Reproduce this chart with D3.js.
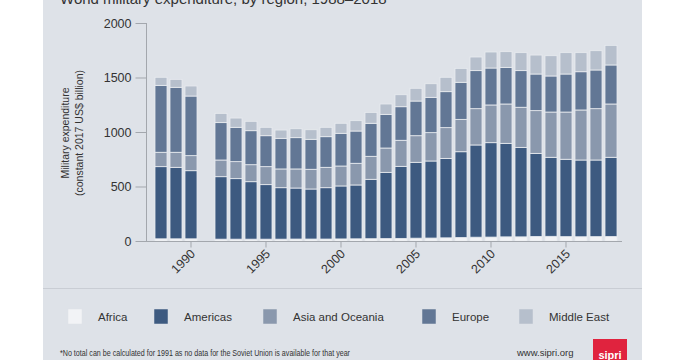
<!DOCTYPE html>
<html><head><meta charset="utf-8">
<script src="https://cdn.jsdelivr.net/npm/d3@7"></script>
<style>
html,body{margin:0;padding:0;background:#fff;}
svg{display:block;font-family:"Liberation Sans",Arial,sans-serif;}
</style></head>
<body>
<svg id="chart" width="685" height="360"></svg>
<script>
const years = d3.range(1988, 2019);
const regions = ["Africa", "Americas", "Asia and Oceania", "Europe", "Middle East"];
const africa   = [20,20,20,null,17,17,17,17,17,18,18,18,19,20,21,22,24,26,27,29,32,35,36,38,38,42,43,40,39,40,41];
const americas = [662,656,625,null,573,555,527,500,472,468,459,471,486,494,545,608,661,696,707,729,787,846,866,858,821,762,725,710,704,703,727];
const asia     = [132,138,138,null,153,156,156,165,172,175,181,187,183,199,211,223,239,244,260,282,297,333,346,361,368,392,415,433,459,471,489];
const europe   = [614,596,547,null,343,315,312,284,281,287,275,281,300,296,303,309,308,318,324,330,340,349,339,336,336,336,331,349,351,355,358];
const middleEast = [74,73,92,null,85,85,86,77,76,82,88,86,92,95,100,95,110,117,125,132,128,125,147,144,165,174,186,196,175,177,180];
const yTicks = [0, 500, 1000, 1500, 2000];
const xTicks = [1990, 1995, 2000, 2005, 2010, 2015];
const colors = ["#f2f3f6", "#3d5a80", "#8a98ad", "#627795", "#b6bfcc"];

const series = [africa, americas, asia, europe, middleEast];
const rows = years.map((yr, i) => {
  const r = {year: yr};
  regions.forEach((k, j) => r[k] = series[j][i] == null ? 0 : series[j][i]);
  r.missing = africa[i] == null;
  return r;
});

const svg = d3.select("#chart");

// panel
svg.append("rect").attr("x", 43).attr("y", -10).attr("width", 599).attr("height", 380).attr("fill", "#dee2e8");
svg.append("line").attr("x1", 43).attr("x2", 642).attr("y1", 288.5).attr("y2", 288.5).attr("stroke", "#c9cdd4").attr("stroke-width", 1.2);

// title (cut off at the top edge, as in the source image)
svg.append("text").attr("x", 60).attr("y", 4).attr("font-size", 15).attr("fill", "#333")
  .text("World military expenditure, by region, 1988–2018");

const x = d3.scaleBand().domain(years).range([153.5, 618.5]).paddingInner(0.2).paddingOuter(0.1);
const y = d3.scaleLinear().domain([0, 2000]).range([241, 23]);

const stack = d3.stack().keys(regions);
const stacked = stack(rows.filter(r => !r.missing));

svg.append("g").selectAll("g").data(stacked).join("g")
  .attr("fill", (d, i) => colors[i])
  .selectAll("rect").data(d => d).join("rect")
  .attr("x", d => x(d.data.year))
  .attr("width", x.bandwidth())
  .attr("y", d => y(d[1]))
  .attr("height", d => y(d[0]) - y(d[1]))
  .attr("stroke", "#e9ecf0").attr("stroke-width", 0.8);

// axes
const axisColor = "#a3a7ad";
svg.append("line").attr("x1", 146.5).attr("x2", 146.5).attr("y1", 23).attr("y2", 241).attr("stroke", axisColor);
svg.append("line").attr("x1", 146).attr("x2", 622).attr("y1", 241.5).attr("y2", 241.5).attr("stroke", axisColor);

const yAxis = svg.append("g").attr("transform", "translate(146.5,0)")
  .call(d3.axisLeft(y).tickValues(yTicks).tickSize(11).tickPadding(4).tickFormat(d3.format("d")));
yAxis.select(".domain").remove();
yAxis.selectAll("line").attr("stroke", axisColor);
yAxis.selectAll("text").attr("font-size", 12.5).attr("fill", "#333").attr("font-family", "Liberation Sans, Arial, sans-serif");

const xAxis = svg.append("g").attr("transform", "translate(0,241.5)")
  .call(d3.axisBottom(x).tickValues(xTicks).tickSize(6).tickFormat(d3.format("d")));
xAxis.select(".domain").remove();
xAxis.selectAll("line").attr("stroke", axisColor);
xAxis.selectAll("text").attr("font-size", 12.5).attr("fill", "#333")
  .attr("font-family", "Liberation Sans, Arial, sans-serif")
  .attr("text-anchor", "end").attr("dy", null).attr("y", 0)
  .attr("transform", "translate(5,13) rotate(-45)");

// y title
const yt = svg.append("text").attr("transform", "translate(69,133) rotate(-90)")
  .attr("text-anchor", "middle").attr("font-size", 10.5).attr("fill", "#333");
yt.append("tspan").attr("x", 0).attr("dy", 0).text("Military expenditure");
yt.append("tspan").attr("x", 0).attr("dy", 13.5).text("(constant 2017 US$ billion)");

// legend
const legX = [68, 154, 263, 422, 519];
const lg = svg.append("g").selectAll("g").data(regions).join("g")
  .attr("transform", (d, i) => `translate(${legX[i]},309)`);
lg.append("rect").attr("width", 14).attr("height", 15).attr("fill", (d, i) => colors[i])
  .attr("stroke", "#dde1e6").attr("stroke-width", 0.5);
lg.append("text").attr("x", 30).attr("y", 11.5).attr("font-size", 11.5).attr("fill", "#333").text(d => d);

// footnote
svg.append("text").attr("x", 60).attr("y", 356).attr("font-size", 9.5).attr("fill", "#333")
  .attr("textLength", 290).attr("lengthAdjust", "spacingAndGlyphs")
  .text("*No total can be calculated for 1991 as no data for the Soviet Union is available for that year");
svg.append("text").attr("x", 517).attr("y", 356).attr("font-size", 9.5).attr("fill", "#333")
  .text("www.sipri.org");
svg.append("rect").attr("x", 593).attr("y", 339).attr("width", 34).attr("height", 25).attr("fill", "#e0233e");
svg.append("text").attr("x", 610).attr("y", 359).attr("text-anchor", "middle").attr("font-size", 11)
  .attr("font-weight", "bold").attr("fill", "#fff").text("sipri");
</script>
</body></html>
